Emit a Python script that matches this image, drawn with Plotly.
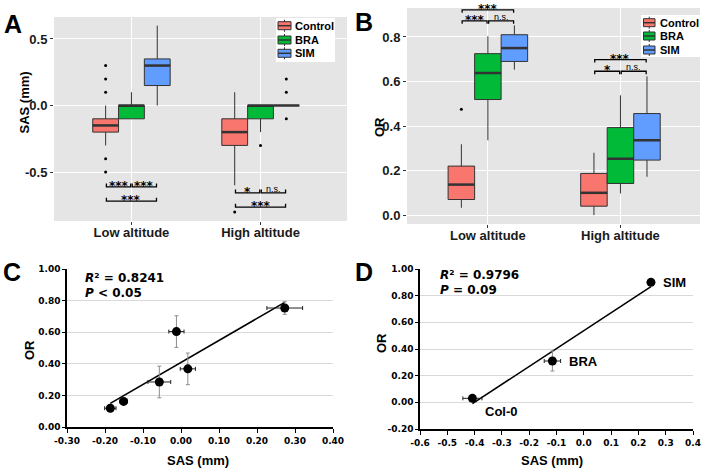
import numpy as np
import plotly.graph_objects as go

W, H = 704, 469

groups = ["Control", "BRA", "SIM"]
group_colors = ["#F8766D", "#00BA38", "#619CFF"]
altitudes = ["Low altitude", "High altitude"]

# ---- Panel A: SAS (mm); each list = [Low altitude, High altitude] ----
sas_lowerfence = {"Control": [-0.30, -0.60], "BRA": [-0.10, -0.20], "SIM": [0.00, 0.00]}
sas_q1 = {"Control": [-0.20, -0.30], "BRA": [-0.10, -0.10], "SIM": [0.15, 0.00]}
sas_median = {"Control": [-0.15, -0.20], "BRA": [0.00, 0.00], "SIM": [0.30, 0.00]}
sas_q3 = {"Control": [-0.10, -0.10], "BRA": [0.00, 0.00], "SIM": [0.35, 0.00]}
sas_upperfence = {"Control": [0.00, 0.10], "BRA": [0.10, 0.00], "SIM": [0.60, 0.00]}
sas_outliers = {"Control": [[0.3, 0.2, 0.1, -0.4, -0.5], [-0.8]],
                "BRA": [[], [-0.3]],
                "SIM": [[], [0.2, 0.1, -0.1]]}

# ---- Panel B: OR; each list = [Low altitude, High altitude] ----
or_lowerfence = {"Control": [0.033, 0.000], "BRA": [0.336, 0.097], "SIM": [0.653, 0.172]}
or_q1 = {"Control": [0.070, 0.040], "BRA": [0.519, 0.142], "SIM": [0.690, 0.247]}
or_median = {"Control": [0.137, 0.100], "BRA": [0.638, 0.253], "SIM": [0.750, 0.336]}
or_q3 = {"Control": [0.220, 0.187], "BRA": [0.725, 0.393], "SIM": [0.810, 0.456]}
or_upperfence = {"Control": [0.318, 0.280], "BRA": [0.803, 0.538], "SIM": [0.852, 0.623]}
or_outliers = {"Control": [[0.475], []], "BRA": [[], []], "SIM": [[], []]}

# ---- significance brackets (pairs of group indices) ----
sig_pairs = [(0, 1), (1, 2), (0, 2)]
a_sig_labels = [["***", "***", "***"], ["*", "n.s.", "***"]]
a_sig_levels = [[-0.612, -0.612, -0.719], [-0.657, -0.657, -0.763]]
b_sig_labels = [["***", "n.s.", "***"], ["*", "n.s.", "***"]]
b_sig_levels = [[0.872, 0.872, 0.922], [0.646, 0.646, 0.698]]

# ---- Panel C: mean SAS vs mean OR ----
c_sas = [-0.186, -0.151, -0.057, -0.012, 0.018, 0.273]
c_sas_err = [0.015, 0.010, 0.030, 0.020, 0.020, 0.047]
c_or = [0.119, 0.162, 0.285, 0.604, 0.368, 0.753]
c_or_err = [0.012, 0.010, 0.100, 0.100, 0.100, 0.040]
c_r2_text = "<b><i>R</i>² = 0.8241</b>"
c_p_text = "<b><i>P</i> < 0.05</b>"

# ---- Panel D: genotypes ----
d_labels = ["Col-0", "BRA", "SIM"]
d_sas = [-0.408, -0.115, 0.246]
d_sas_err = [0.035, 0.030, 0.012]
d_or = [0.030, 0.310, 0.900]
d_or_err = [0.012, 0.075, 0.015]
d_r2_text = "<b><i>R</i>² = 0.9796</b>"
d_p_text = "<b><i>P</i> = 0.09</b>"

c_xticks = [-0.3, -0.2, -0.1, 0.0, 0.1, 0.2, 0.3, 0.4]
c_xticktext = ["-0.30", "-0.20", "-0.10", "0.00", "0.10", "0.20", "0.30", "0.40"]
c_yticks = [0.0, 0.2, 0.4, 0.6, 0.8, 1.0]
c_yticktext = ["0.00", "0.20", "0.40", "0.60", "0.80", "1.00"]
d_xticks = [-0.6, -0.5, -0.4, -0.3, -0.2, -0.1, 0.0, 0.1, 0.2, 0.3, 0.4]
d_xticktext = ["-0.6", "-0.5", "-0.4", "-0.3", "-0.2", "-0.1", "0.0", "0.1", "0.2", "0.3", "0.4"]
d_yticks = [-0.2, 0.0, 0.2, 0.4, 0.6, 0.8, 1.0]
d_yticktext = ["-0.20", "0.00", "0.20", "0.40", "0.60", "0.80", "1.00"]

# ------------------------------------------------------------------
ARIAL = "Arial, Liberation Sans, sans-serif"
DEJAVU = "DejaVu Sans, Verdana, sans-serif"
BOXW = 0.2
DARK = "#333333"

def px_x(p):
    return p / W

def px_y(p):
    return 1 - p / H

fig = go.Figure()
annotations = []
shapes = []


def add_box_panel(xa, ya, lf, q1, med, q3, uf, outl, sig_labels, sig_levels, tick_dir):
    cats = list(range(len(altitudes)))
    mx, my = [], []
    for gi, g in enumerate(groups):
        xs = [c + (gi - 1) * BOXW for c in cats]
        fig.add_trace(go.Box(
            x=xs, q1=q1[g], median=med[g], q3=q3[g],
            lowerfence=lf[g], upperfence=uf[g],
            width=BOXW, whiskerwidth=0, boxpoints=False,
            fillcolor=group_colors[gi], line=dict(color=DARK, width=1),
            name=g, showlegend=False,
            xaxis=xa, yaxis=ya, hoverinfo="skip"))
        for ci, x in enumerate(xs):
            mx += [x - BOXW / 2, x + BOXW / 2, None]
            my += [med[g][ci], med[g][ci], None]
        ox, oy = [], []
        for ci, x in enumerate(xs):
            for v in outl[g][ci]:
                ox.append(x)
                oy.append(v)
        if ox:
            fig.add_trace(go.Scatter(x=ox, y=oy, mode="markers",
                                     marker=dict(size=3, color="black"),
                                     showlegend=False, xaxis=xa, yaxis=ya, hoverinfo="skip"))
    fig.add_trace(go.Scatter(x=mx, y=my, mode="lines", line=dict(color=DARK, width=2.5),
                             showlegend=False, xaxis=xa, yaxis=ya, hoverinfo="skip"))
    # brackets
    bx, by = [], []
    for ci in cats:
        for pi, (i, j) in enumerate(sig_pairs):
            x0 = ci + (i - 1) * BOXW + 0.006
            x1 = ci + (j - 1) * BOXW - 0.006
            lv = sig_levels[ci][pi]
            bx += [x0, x0, x1, x1, None]
            by += [lv + tick_dir, lv, lv, lv + tick_dir, None]
            lab = sig_labels[ci][pi]
            if lab == "n.s.":
                font = dict(family=ARIAL, size=9, color="black")
                ys = 4
            else:
                font = dict(family=DEJAVU, size=12, color="black", weight="bold")
                ys = 1
            annotations.append(dict(x=(x0 + x1) / 2, y=lv, xref=xa, yref=ya, text=lab,
                                    showarrow=False, xanchor="center", yanchor="middle",
                                    yshift=ys, font=font))
    fig.add_trace(go.Scatter(x=bx, y=by, mode="lines", line=dict(color="black", width=1.3),
                             showlegend=False, xaxis=xa, yaxis=ya, hoverinfo="skip"))


def add_key_legend(x0, x1, y0, y1, icon_x0, icon_x1, text_x, rows):
    shapes.append(dict(type="rect", xref="paper", yref="paper", x0=px_x(x0), x1=px_x(x1),
                       y0=px_y(y1), y1=px_y(y0), fillcolor="white", line=dict(width=0),
                       layer="above"))
    cx = (icon_x0 + icon_x1) / 2
    for gi, g in enumerate(groups):
        r = rows[gi]
        shapes.append(dict(type="line", xref="paper", yref="paper", x0=px_x(cx), x1=px_x(cx),
                           y0=px_y(r - 6), y1=px_y(r + 6), line=dict(color=DARK, width=1),
                           layer="above"))
        shapes.append(dict(type="rect", xref="paper", yref="paper", x0=px_x(icon_x0),
                           x1=px_x(icon_x1), y0=px_y(r + 4), y1=px_y(r - 4),
                           fillcolor=group_colors[gi], line=dict(color=DARK, width=1),
                           layer="above"))
        shapes.append(dict(type="line", xref="paper", yref="paper", x0=px_x(icon_x0),
                           x1=px_x(icon_x1), y0=px_y(r), y1=px_y(r),
                           line=dict(color=DARK, width=1.5), layer="above"))
        annotations.append(dict(text="<b>" + g + "</b>", x=px_x(text_x), y=px_y(r),
                                xref="paper", yref="paper", showarrow=False,
                                xanchor="left", yanchor="middle",
                                font=dict(family=ARIAL, size=11, color="black")))


add_box_panel("x", "y", sas_lowerfence, sas_q1, sas_median, sas_q3, sas_upperfence,
              sas_outliers, a_sig_labels, a_sig_levels, 0.025)
add_box_panel("x2", "y2", or_lowerfence, or_q1, or_median, or_q3, or_upperfence,
              or_outliers, b_sig_labels, b_sig_levels, -0.013)
add_key_legend(276, 335, 18, 62, 278, 291, 292.5, [25.7, 40, 53.3])
add_key_legend(641, 700, 15, 57, 643.5, 655, 657.5, [22.7, 36, 50])

# ---- Panel C ----
cfit = np.polyfit(c_sas, c_or, 1)
cx = [min(c_sas), max(c_sas)]
fig.add_trace(go.Scatter(x=cx, y=list(np.polyval(cfit, cx)), mode="lines",
                         line=dict(color="black", width=1.6), showlegend=False,
                         xaxis="x3", yaxis="y3", hoverinfo="skip"))
fig.add_trace(go.Scatter(x=c_sas, y=c_or, mode="markers",
                         marker=dict(size=9, color="black"),
                         error_x=dict(type="data", array=c_sas_err, color="#222222", thickness=1, width=2),
                         error_y=dict(type="data", array=c_or_err, color="#8C8C8C", thickness=1, width=2),
                         showlegend=False, xaxis="x3", yaxis="y3", hoverinfo="skip"))

# ---- Panel D ----
dfit = np.polyfit(d_sas, d_or, 1)
dx = [min(d_sas), max(d_sas)]
fig.add_trace(go.Scatter(x=dx, y=list(np.polyval(dfit, dx)), mode="lines",
                         line=dict(color="black", width=1.6), showlegend=False,
                         xaxis="x4", yaxis="y4", hoverinfo="skip"))
fig.add_trace(go.Scatter(x=d_sas, y=d_or, mode="markers",
                         marker=dict(size=9, color="black"),
                         error_x=dict(type="data", array=d_sas_err, color="#222222", thickness=1, width=2),
                         error_y=dict(type="data", array=d_or_err, color="#8C8C8C", thickness=1, width=2),
                         showlegend=False, xaxis="x4", yaxis="y4", hoverinfo="skip"))
label_shift = [(11, -13), (15, 0), (10, 0)]
for i, lab in enumerate(d_labels):
    annotations.append(dict(x=d_sas[i], y=d_or[i], xref="x4", yref="y4", text="<b>" + lab + "</b>",
                            showarrow=False, xanchor="left", yanchor="middle",
                            xshift=label_shift[i][0], yshift=label_shift[i][1],
                            font=dict(family=ARIAL, size=13, color="black")))

# ---- text annotations ----
def ann(text, x, y, size, family=ARIAL, angle=0, xanchor="center"):
    annotations.append(dict(text=text, x=px_x(x), y=px_y(y), xref="paper", yref="paper",
                            showarrow=False, xanchor=xanchor, yanchor="middle", textangle=angle,
                            font=dict(family=family, size=size, color="black")))

ann("<b>A</b>", 12.5, 24, 25)
ann("<b>B</b>", 363.5, 22, 25)
ann("<b>C</b>", 11.5, 272, 25)
ann("<b>D</b>", 364, 272, 25)
ann("<b>SAS (mm)</b>", 24, 102.5, 13, angle=-90)
ann("<b>OR</b>", 379.5, 127.5, 13, angle=-90)
ann("<b>OR</b>", 29, 350, 13, angle=-90)
ann("<b>OR</b>", 381, 343, 13, angle=-90)
ann("<b>SAS (mm)</b>", 198, 460, 13)
ann("<b>SAS (mm)</b>", 552, 460, 13)
ann(c_r2_text, 83, 278, 12, family=DEJAVU, xanchor="left")
ann(c_p_text, 83, 293, 12, family=DEJAVU, xanchor="left")
ann(d_r2_text, 438, 275, 12, family=DEJAVU, xanchor="left")
ann(d_p_text, 438, 290, 12, family=DEJAVU, xanchor="left")

# gray ggplot panels
shapes += [
    dict(type="rect", xref="x domain", yref="y domain", x0=0, x1=1, y0=0, y1=1,
         fillcolor="#E5E5E5", line=dict(width=0), layer="below"),
    dict(type="rect", xref="x2 domain", yref="y2 domain", x0=0, x1=1, y0=0, y1=1,
         fillcolor="#E5E5E5", line=dict(width=0), layer="below"),
]

gg_tickfont = dict(family=ARIAL, size=13, color="#1A1A1A", weight="bold")
gg_axis = dict(showgrid=True, gridcolor="white", gridwidth=1.2, zeroline=False, showline=False,
               ticks="outside", ticklen=3, tickcolor="#333333", tickfont=gg_tickfont,
               automargin=False)
xl_tickfont = dict(family=DEJAVU, size=9, color="black", weight="bold")
xl_x = dict(showgrid=False, zeroline=False, showline=True, linecolor="black", linewidth=1.5,
            ticks="outside", ticklen=4, tickcolor="black", tickwidth=1.2, tickfont=xl_tickfont,
            automargin=False)
xl_y = dict(showgrid=True, gridcolor="#D9D9D9", gridwidth=1, zeroline=False, showline=True,
            linecolor="black", linewidth=1.5, ticks="outside", ticklen=3, tickcolor="black",
            tickwidth=1.2, tickfont=xl_tickfont, automargin=False)

fig.update_layout(
    width=W, height=H, margin=dict(l=0, r=0, t=0, b=0, autoexpand=False),
    paper_bgcolor="white", plot_bgcolor="rgba(0,0,0,0)",
    xaxis=dict(domain=[px_x(54), px_x(347)], range=[-0.60, 1.67], tickvals=[0, 1],
               ticktext=altitudes, anchor="y", ticklabelstandoff=-4, **gg_axis),
    yaxis=dict(domain=[px_y(221), px_y(17)], range=[-0.868, 0.665], tickvals=[-0.5, 0.0, 0.5],
               ticktext=["-0.5", "0.0", "0.5"], anchor="x", **gg_axis),
    xaxis2=dict(domain=[px_x(407), px_x(700)], range=[-0.61, 1.60], tickvals=[0, 1],
                ticktext=altitudes, anchor="y2", ticklabelstandoff=-4, **gg_axis),
    yaxis2=dict(domain=[px_y(224), px_y(8)], range=[-0.04, 0.93],
                tickvals=[0.0, 0.2, 0.4, 0.6, 0.8], ticktext=["0.0", "0.2", "0.4", "0.6", "0.8"],
                anchor="x2", **gg_axis),
    xaxis3=dict(domain=[px_x(67), px_x(333)], range=[-0.3, 0.4], tickvals=c_xticks,
                ticktext=c_xticktext, anchor="y3", **xl_x),
    yaxis3=dict(domain=[px_y(427), px_y(269)], range=[0, 1.0], tickvals=c_yticks,
                ticktext=c_yticktext, anchor="x3", **xl_y),
    xaxis4=dict(domain=[px_x(420), px_x(693)], range=[-0.6, 0.4], tickvals=d_xticks,
                ticktext=d_xticktext, anchor="y4", **xl_x),
    yaxis4=dict(domain=[px_y(429), px_y(269)], range=[-0.2, 1.0], tickvals=d_yticks,
                ticktext=d_yticktext, anchor="x4", **xl_y),
    annotations=annotations,
    shapes=shapes,
    showlegend=False,
)

fig.write_html("out.html", config={"displayModeBar": False},
               post_script="document.body.style.margin='0px';")
